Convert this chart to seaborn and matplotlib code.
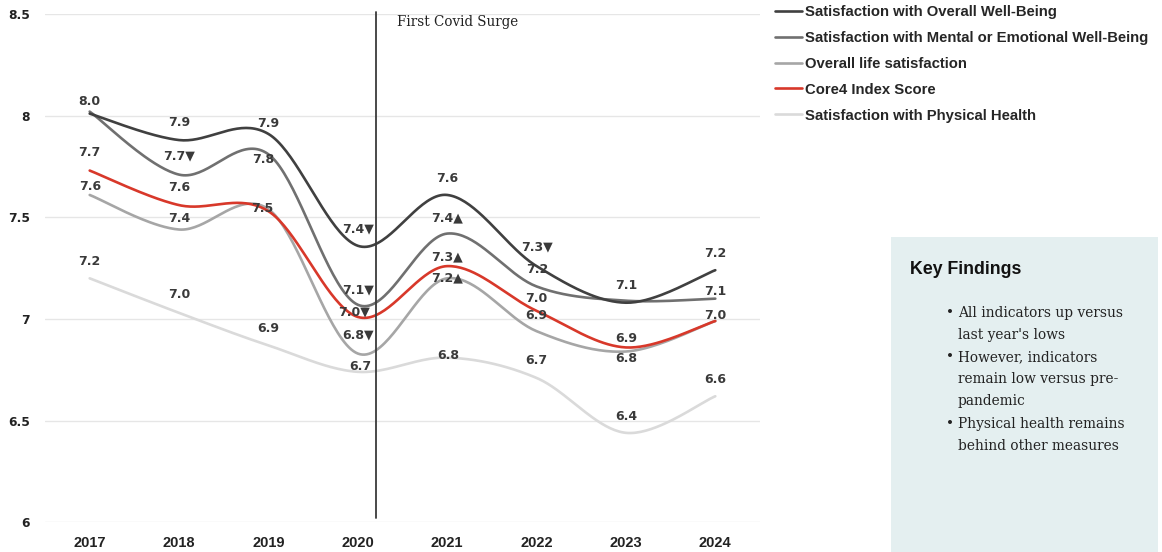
import numpy as np
import pandas as pd
import matplotlib
matplotlib.use("Agg")
import matplotlib.pyplot as plt
from matplotlib.patches import Rectangle
from matplotlib.lines import Line2D
import seaborn as sns

# ---- data -------------------------------------------------------------
years = ["2017", "2018", "2019", "2020", "2021", "2022", "2023", "2024"]

overall_wellbeing = [8.01, 7.88, 7.91, 7.36, 7.61, 7.26, 7.08, 7.24]
mental_wellbeing = [8.02, 7.71, 7.81, 7.07, 7.42, 7.16, 7.09, 7.10]
life_satisfaction = [7.61, 7.44, 7.54, 6.83, 7.20, 6.94, 6.84, 6.99]
core4_index = [7.73, 7.56, 7.53, 7.01, 7.26, 7.04, 6.86, 6.99]
physical_health = [7.20, 7.03, 6.87, 6.74, 6.81, 6.71, 6.44, 6.62]

# significant year-over-year change markers
overall_change = ["", "", "", "▼", "", "▼", "", ""]
mental_change = ["", "▼", "", "▼", "▲", "", "", ""]
life_change = ["", "", "", "▼", "▲", "", "", ""]
core4_change = ["", "", "", "▼", "▲", "", "", ""]
physical_change = ["", "", "", "", "", "", "", ""]

series_names = [
    "Satisfaction with Overall Well-Being",
    "Satisfaction with Mental or Emotional Well-Being",
    "Overall life satisfaction",
    "Core4 Index Score",
    "Satisfaction with Physical Health",
]

findings = [
    ["All indicators up versus", "last year's lows"],
    ["However, indicators", "remain low versus pre-", "pandemic"],
    ["Physical health remains", "behind other measures"],
]

# ---- styling ----------------------------------------------------------
colors = ["#404040", "#707070", "#a6a6a6", "#d8382a", "#dadada"]
label_color = "#3a3a3a"
label_font = ["DejaVu Sans"]

# label placement (pixels above the point, horizontal nudge); None hides the label
label_dy = [
    [12, 18, 10, 17, 16, 19, 17, 17],
    [None, 19, -5, 15, 16, 17, None, 7],
    [8, 11, 1, 19, 0, 16, -7, None],
    [18, 18, None, 5, 9, 12, 9, 6],
    [17, 18, 17, 5, 2, 17, 16, 17],
]
label_dx = [
    [0, 0, 0, 0, 0, 0, 0, 0],
    [0, 0, -5, 0, 0, 1, 0, 0],
    [0, 0, -6, 0, 0, 0, 0, 0],
    [0, 0, 0, -4, 0, 0, 0, 0],
    [0, 0, 0, 3, 1, 0, 0, 0],
]

sns.set_theme(style="white")
plt.rcParams["font.family"] = ["Liberation Sans", "DejaVu Sans"]

W, H = 1162, 552
fig = plt.figure(figsize=(W / 100, H / 100), dpi=100)
ax_left, ax_right, ax_top, ax_bottom = 45, 760, 14, 522.3
ax = fig.add_axes([ax_left / W, (H - ax_bottom) / H,
                   (ax_right - ax_left) / W, (ax_bottom - ax_top) / H])


def smooth_curve(xs, ys, n=40):
    """Cubic Bezier smoothing through every point (spreadsheet-style smoothed line)."""
    pts = np.column_stack([xs, ys]).astype(float)
    P = np.vstack([pts[0], pts, pts[-1]])
    out = []
    for i in range(1, len(P) - 2):
        p0, p1, p2, p3 = P[i - 1], P[i], P[i + 1], P[i + 2]
        c1 = p1 + (p2 - p0) / 6.0
        c2 = p2 - (p3 - p1) / 6.0
        t = np.linspace(0, 1, n, endpoint=(i == len(P) - 3))[:, None]
        seg = ((1 - t) ** 3) * p1 + 3 * ((1 - t) ** 2) * t * c1 \
            + 3 * (1 - t) * t ** 2 * c2 + t ** 3 * p2
        out.append(seg)
    out = np.vstack(out)
    return out[:, 0], out[:, 1]


all_values = [overall_wellbeing, mental_wellbeing, life_satisfaction,
              core4_index, physical_health]
all_changes = [overall_change, mental_change, life_change, core4_change,
               physical_change]
xpos = np.arange(len(years))

# draw order: light lines first so darker ones sit on top
draw_order = [4, 2, 1, 0, 3]
for k in draw_order:
    sx, sy = smooth_curve(xpos, all_values[k])
    df = pd.DataFrame({"x": sx, "y": sy})
    sns.lineplot(data=df, x="x", y="y", sort=False, estimator=None,
                 color=colors[k], linewidth=1.9, ax=ax, legend=False)

# data labels
for k in range(5):
    for i, v in enumerate(all_values[k]):
        dy = label_dy[k][i]
        if dy is None:
            continue
        txt = f"{v:.1f}" + all_changes[k][i]
        ax.annotate(txt, (xpos[i], v),
                    xytext=(label_dx[k][i] * 0.72, dy * 0.72),
                    textcoords="offset points", ha="center", va="center",
                    fontsize=9, fontweight="bold", color=label_color,
                    family=label_font)

# axes
ax.set_xlim(-0.5, len(years) - 0.5)
ax.set_ylim(6, 8.5)
ax.set_xticks(xpos)
ax.set_xticklabels(years)
yt = [6, 6.5, 7, 7.5, 8, 8.5]
ax.set_yticks(yt)
ax.set_yticklabels([f"{t:g}" for t in yt])
ax.set_xlabel("")
ax.set_ylabel("")
for lab in ax.get_xticklabels():
    lab.set_fontweight("bold")
    lab.set_fontsize(10.5)
    lab.set_color("#222222")
for lab in ax.get_yticklabels():
    lab.set_fontweight("bold")
    lab.set_fontsize(8.8)
    lab.set_color("#222222")
    lab.set_family(label_font)
ax.tick_params(axis="x", length=0, pad=10)
ax.tick_params(axis="y", length=0, pad=11)
ax.grid(axis="y", color="#e6e6e6", linewidth=1.0)
ax.grid(axis="x", visible=False)
ax.set_axisbelow(True)
for s in ax.spines.values():
    s.set_visible(False)

# event marker
ax.axvline(3.2, ymin=0.008, ymax=1.004, color="#3a3a3a", linewidth=1.3,
           clip_on=False, zorder=5)
ax.text(3.44, 8.46, "First Covid Surge", ha="left", va="center",
        fontsize=9.75, color="#222222", family="DejaVu Serif")

# legend
handles = [Line2D([0], [0], color=c, linewidth=1.9) for c in colors]
fig.legend(handles, series_names, loc="upper left",
           bbox_to_anchor=(775 / W, 1 - 5 / H), frameon=False,
           prop={"family": "Liberation Sans", "weight": "bold", "size": 10.7},
           handlelength=1.82, handletextpad=0.2, labelspacing=0.8,
           borderpad=0, borderaxespad=0)

# key findings panel
fig.patches.append(Rectangle((891 / W, 0), 267 / W, (H - 237) / H,
                             transform=fig.transFigure, facecolor="#e4eff0",
                             edgecolor="none", zorder=0))
fig.text(910 / W, 1 - 269 / H, "Key Findings", ha="left", va="center",
         fontsize=12.8, fontweight="bold", color="#111111")
y = 313
for bullet in findings:
    fig.text(946 / W, 1 - y / H, "•", ha="left", va="center",
             fontsize=9.9, color="#222222", family="DejaVu Serif")
    for line in bullet:
        fig.text(958 / W, 1 - y / H, line, ha="left", va="center",
                 fontsize=9.9, color="#222222", family="DejaVu Serif")
        y += 22.1

fig.savefig("out.png", dpi=100)
